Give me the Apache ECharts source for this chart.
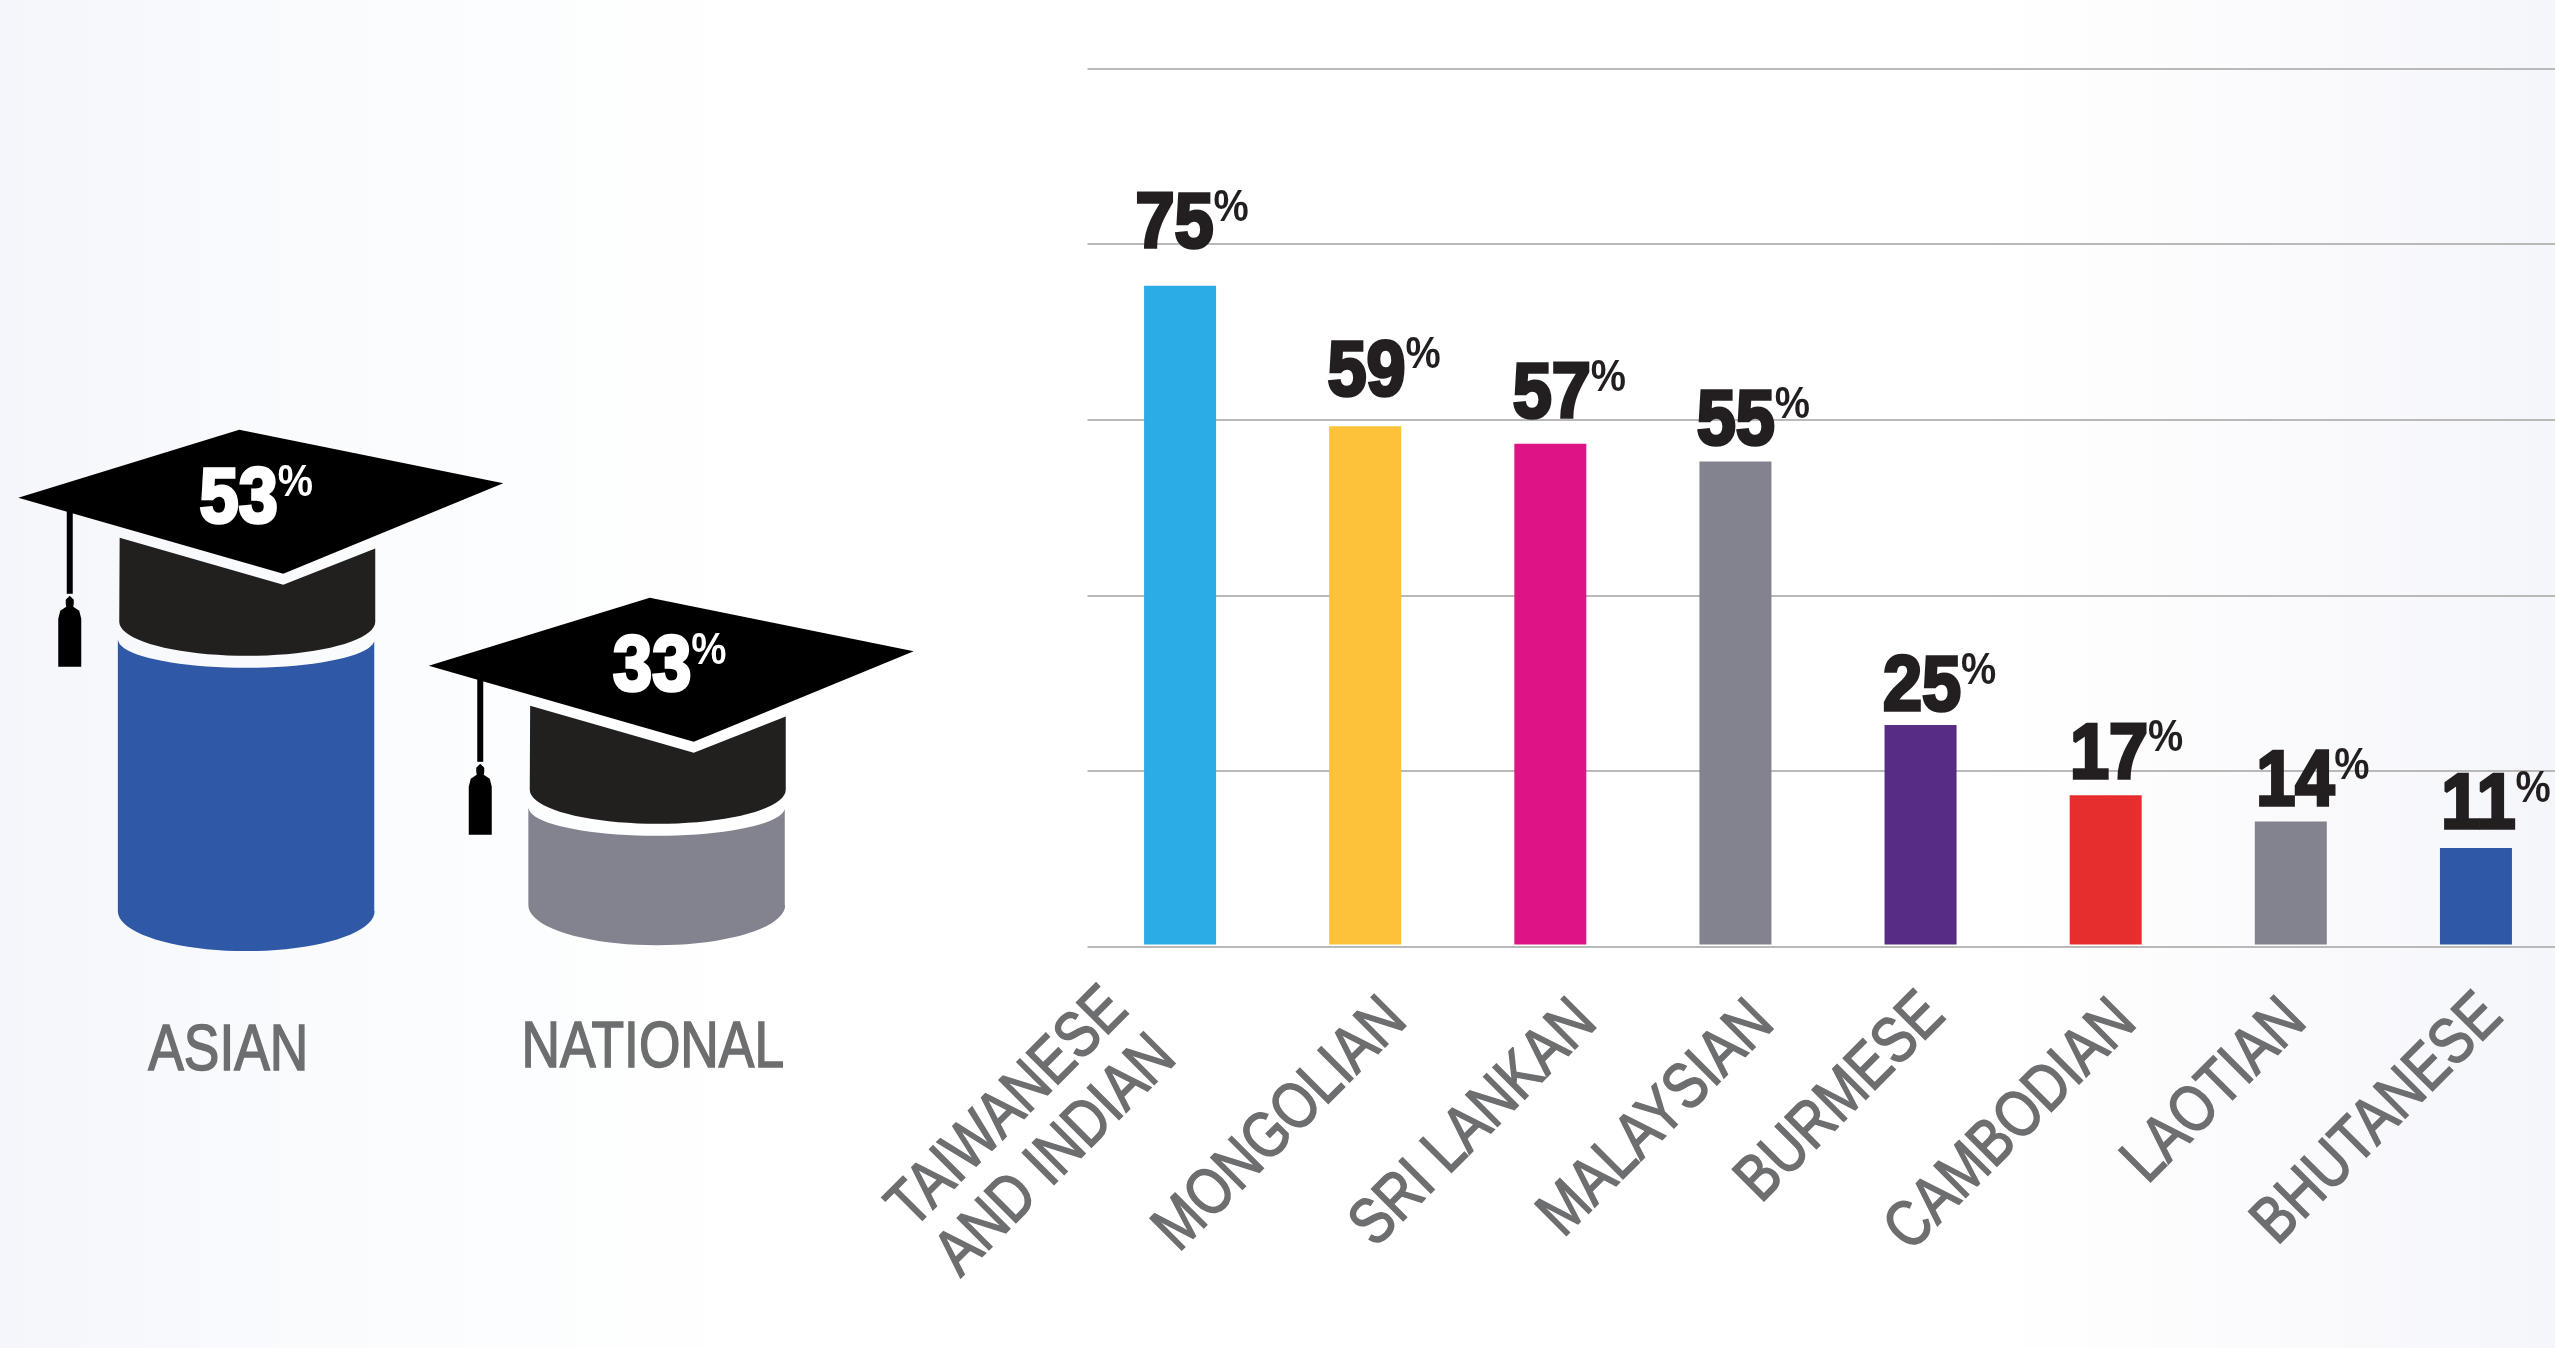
<!DOCTYPE html>
<html><head><meta charset="utf-8">
<style>html,body{margin:0;padding:0;width:100%;height:100%;overflow:hidden;background:#fff}#c{width:2555px;height:1348px}</style>
<script src="https://cdn.jsdelivr.net/npm/echarts@6/dist/echarts.min.js"></script>
</head><body><div id="c"></div>
<script>
// ---- data ----
const groupCategories = ['ASIAN', 'NATIONAL'];
const groupValues = [53, 33];
const groupBases = [20.7, 21.4];
const categories = ['TAIWANESE\nAND INDIAN', 'MONGOLIAN', 'SRI LANKAN', 'MALAYSIAN', 'BURMESE', 'CAMBODIAN', 'LAOTIAN', 'BHUTANESE'];
const values = [75, 59, 57, 55, 25, 17, 14, 11];
// ---- styling ----
const barColors = ['#2BACE6', '#FDC13A', '#DF1484', '#82838F', '#562C85', '#E62E2E', '#82838F', '#2F58A6'];
const groupColors = ['#2F58A6', '#82838F'];
const labelShift = [[12,-21],[19,-14],[19,-9],[18,0],[19,3],[21,0],[22,1],[20,-2]];
const tickShift = [[-38.5,77],[31,63.5],[36,65.5],[28,66.5],[14,58.5],[20,65.5],[5,64.5],[16,59.5]];
const groupTickShift = [[-18,135],[-4,132]];
const capLabelShift = [10, 13];
const SANS = '"Liberation Sans",Arial,sans-serif';
const PCT_SQUEEZE = 0.9, TICK_SQUEEZE = 0.82;
const INK = '#231F20', TEXTGREY = '#6D6E70', GRIDLINE = '#B9B9B9';

function ell(cx, cy, rx, ry, from, to, n) {
  const out = [];
  for (let i = 0; i <= n; i++) {
    const t = (from + (to - from) * i / n) * Math.PI / 180;
    out.push([cx + rx * Math.cos(t), cy + ry * Math.sin(t)]);
  }
  return out;
}
function rel(p, o) { return p.map(q => [o[0] + q[0], o[1] + q[1]]); }
function pctRich(color) {
  return {
    n: { fill: color, stroke: color, lineWidth: 3.5, fontFamily: SANS, fontWeight: 'bold', fontSize: 78, lineHeight: 78 },
    p: { fill: color, fontFamily: SANS, fontWeight: 'bold', fontSize: 44, lineHeight: 44, verticalAlign: 'top' }
  };
}
function pctText(x, y, v, color, vAlign) {
  return {
    type: 'text', x: x, y: y, scaleX: PCT_SQUEEZE, z2: 10,
    style: { text: '{n|' + v + '}{p|%}', align: 'center', verticalAlign: vAlign, rich: pctRich(color) }
  };
}
function tickText(x, y, text, rotation, align) {
  return {
    type: 'text', x: x, y: y, rotation: rotation, scaleX: TICK_SQUEEZE,
    style: {
      text: text, align: align, verticalAlign: 'middle', fill: TEXTGREY, stroke: TEXTGREY, lineWidth: 1.6,
      fontFamily: SANS, fontSize: 65, lineHeight: 68
    }
  };
}

function renderCap(params, api) {
  const i = params.dataIndex;
  const top = api.coord([api.value(0), api.value(1)]);
  const base = api.coord([api.value(0), api.value(2)]);
  const axis = api.coord([api.value(0), 20]);
  const h = base[1] - top[1];
  const cyl = [[128, 2]].concat(ell(0, 0, 128, 28, 0, 180, 40).slice(1, -1)).concat([[-128.4, 0], [-128.4, h]])
    .concat(ell(0, h, 128.4, 40, 180, 0, 40)).concat([[128, h]]);
  const body = [[-126.6, -102], [37, -55], [129, -91.3], [129, -18]]
    .concat(ell(1, -18, 128, 34, 0, 180, 40));
  const board = [[-228, -142], [-7, -210], [257, -156.5], [37, -66]];
  const cord = [[-179.5, -130], [-173.5, -130], [-173.5, -46], [-179.5, -46]];
  const tassel = [[-176.5, -44], [-172.5, -40], [-172.5, -36], [-173, -33], [-167, -29], [-165, -21], [-165, 27], [-188, 27], [-188, -21], [-186, -29], [-180, -33], [-180.5, -36], [-180.5, -40]];
  const poly = (pts, fill) => ({ type: 'polygon', shape: { points: rel(pts, top) }, style: { fill: fill } });
  return {
    type: 'group',
    children: [
      poly(cyl, groupColors[i]),
      poly(body, '#22201E'),
      poly(cord, '#000'),
      poly(tassel, '#000'),
      poly(board, '#000'),
      pctText(top[0] + capLabelShift[i], top[1] - 139, groupValues[i], '#fff', 'middle'),
      tickText(axis[0] + groupTickShift[i][0], axis[1] + groupTickShift[i][1], groupCategories[i], 0, 'center')
    ]
  };
}
function renderValueLabel(params, api) {
  const i = params.dataIndex;
  const p = api.coord([i, api.value(1)]);
  return pctText(p[0] + labelShift[i][0], p[1] + labelShift[i][1], values[i], INK, 'bottom');
}
function renderTick(params, api) {
  const i = params.dataIndex;
  const p = api.coord([i, 0]);
  return tickText(p[0] + tickShift[i][0], p[1] + tickShift[i][1], categories[i], Math.PI / 4, 'right');
}

const chart = echarts.init(document.getElementById('c'), null, { renderer: 'canvas', width: 2555, height: 1348 });
chart.setOption({
  animation: false,
  backgroundColor: {
    type: 'linear', x: 0, y: 0, x2: 1, y2: 0,
    colorStops: [
      { offset: 0, color: '#F4F6FB' }, { offset: 0.09, color: '#F9FAFD' }, { offset: 0.2, color: '#FCFDFE' }, { offset: 0.3, color: '#FFFFFF' },
      { offset: 0.78, color: '#FFFFFF' }, { offset: 0.88, color: '#FBFBFD' }, { offset: 1, color: '#F5F6FB' }
    ]
  },
  grid: [
    { left: 1087.5, right: -13.5, top: 68.5, height: 878, outerBoundsMode: 'none' },      // gridlines + tick labels
    { left: 1087.5, right: -13.5, top: 66.1, height: 878.4, outerBoundsMode: 'none' },    // bars
    { left: 41, width: 821, top: 581, height: 336, outerBoundsMode: 'none' }              // caps
  ],
  xAxis: [
    {
      gridIndex: 0, type: 'category', boundaryGap: true, data: categories,
      axisLine: { show: false }, axisTick: { show: false }, axisLabel: { show: false }
    },
    { gridIndex: 1, type: 'category', data: categories, show: false },
    {
      gridIndex: 2, type: 'category', data: groupCategories,
      axisLine: { show: false }, axisTick: { show: false }, axisLabel: { show: false }
    }
  ],
  yAxis: [
    {
      gridIndex: 0, type: 'value', min: 0, max: 100, interval: 20,
      axisLabel: { show: false }, axisLine: { show: false }, axisTick: { show: false },
      splitLine: { show: true, lineStyle: { color: GRIDLINE, width: 2 } }
    },
    { gridIndex: 1, type: 'value', min: 0, max: 100, show: false, splitLine: { show: false } },
    { gridIndex: 2, type: 'value', min: 20, max: 60, show: false, splitLine: { show: false } }
  ],
  series: [
    {
      type: 'bar', xAxisIndex: 1, yAxisIndex: 1, barWidth: 72,
      data: values.map((v, i) => ({ value: v, itemStyle: { color: barColors[i] } }))
    },
    {
      type: 'custom', xAxisIndex: 1, yAxisIndex: 1, clip: false, silent: true, z: 5,
      renderItem: renderValueLabel, encode: { x: 0, y: 1 },
      data: values.map((v, i) => [i, v])
    },
    {
      type: 'custom', xAxisIndex: 0, yAxisIndex: 0, clip: false, silent: true, z: 5,
      renderItem: renderTick, encode: { x: 0, y: 1 },
      data: categories.map((c, i) => [i, 0])
    },
    {
      type: 'custom', xAxisIndex: 2, yAxisIndex: 2, clip: false,
      renderItem: renderCap,
      encode: { x: 0, y: 1 },
      data: groupCategories.map((c, i) => [i, groupValues[i], groupBases[i]])
    }
  ]
});
</script></body></html>
